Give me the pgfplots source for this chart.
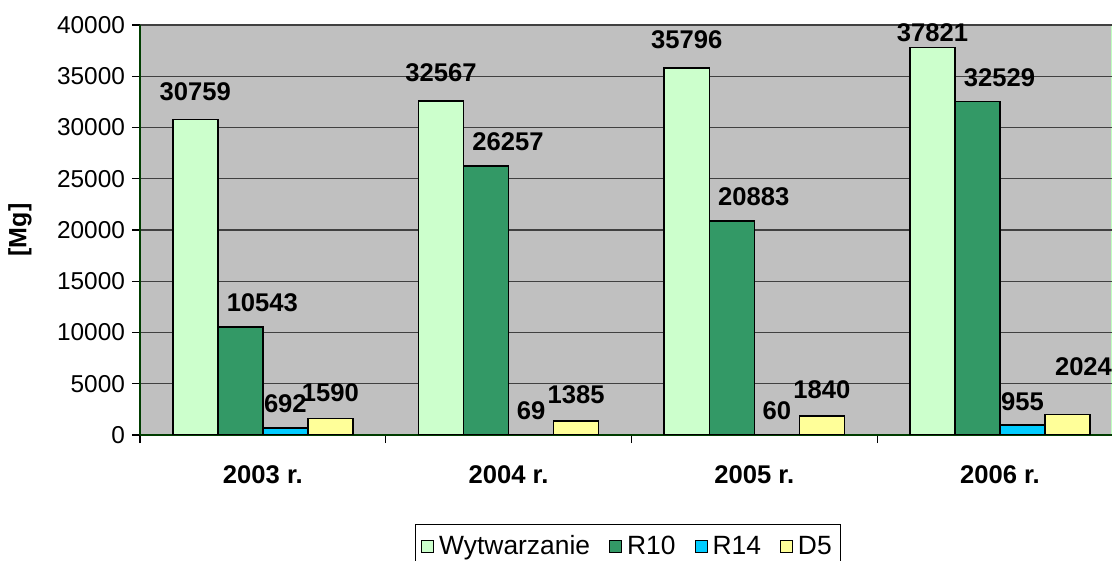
\documentclass[border=0pt]{standalone}
\usepackage{pgfplots}
\pgfplotsset{compat=1.18}
\usepackage{fontspec}
\setmainfont{Liberation Sans}
\definecolor{cW}{HTML}{CCFFCC}
\definecolor{cR10}{HTML}{339966}
\definecolor{cR14}{HTML}{00CCFF}
\definecolor{cD5}{HTML}{FFFF99}
\definecolor{bg}{HTML}{C0C0C0}
\begin{document}
\begin{tikzpicture}
\begin{axis}[
  at={(0,0)}, anchor=south west,
  scale only axis, width=486pt, height=205pt,
  xmin=-0.5, xmax=3.456, ymin=0, ymax=40000,
  axis background/.style={fill=bg, draw=green!25!white, line width=0.8pt},
  axis lines*=left,
  axis line style={black!60!green!60!black, line width=0.6pt},
  ybar=0pt, bar width=0.1832,
  ytick={0,5000,...,40000},
  scaled y ticks=false,
  ymajorgrids, grid style={black!75, line width=0.6pt},
  tick align=outside, major tick length=4pt,
  tick style={black, line width=0.6pt},
  yticklabel style={font=\fontsize{12.2}{13}\selectfont, /pgf/number format/assume math mode=true, /pgf/number format/1000 sep={}},
  xtick={-0.5,0.5,1.5,2.5}, xticklabels={},
  extra x ticks={0,1,2,3},
  extra x tick labels={2003 r.,2004 r.,2005 r.,2006 r.},
  extra x tick style={major tick length=0pt, xticklabel style={font=\fontsize{12.8}{14}\selectfont\bfseries, yshift=-12pt}},
  ylabel={[Mg]},
  ylabel style={font=\fontsize{12.5}{14}\selectfont\bfseries, at={(axis description cs:-0.1235,0.5)}, anchor=center},
  legend columns=4,
  legend style={at={(axis description cs:0.502,-0.272)}, anchor=center, draw=black, fill=white,
    font=\fontsize{13.2}{14}\selectfont, inner ysep=4pt, inner xsep=3pt,
    nodes={inner sep=1.5pt},
    /tikz/every odd column/.append style={column sep=1pt},
    /tikz/every even column/.append style={column sep=8pt}},
  legend image code/.code={\draw[#1, line width=0.5pt] (0pt,-3pt) rectangle (6pt,3pt);},
  nodes near coords={\pgfmathprintnumber[assume math mode=true,1000 sep={}]{\pgfplotspointmeta}},
  every node near coord/.append style={font=\fontsize{12.8}{14}\selectfont\bfseries, anchor=center, black},
]
\addplot[fill=cW, draw=black, line width=0.75pt,
  every node near coord/.append code={\ifnum\coordindex=3 \pgfkeysalso{yshift=7.5pt}\else\pgfkeysalso{yshift=14pt}\fi}]
  coordinates {(0,30759) (1,32567) (2,35796) (3,37821)};
\addplot[fill=cR10, draw=black, line width=0.75pt, every node near coord/.append style={yshift=12pt, xshift=11pt}]
  coordinates {(0,10543) (1,26257) (2,20883) (3,32529)};
\addplot[fill=cR14, draw=black, line width=0.75pt, every node near coord/.append style={yshift=12pt}]
  coordinates {(0,692) (1,69) (2,60) (3,955)};
\addplot[fill=cD5, draw=black, line width=0.75pt,
  every node near coord/.append code={\ifnum\coordindex=3 \pgfkeysalso{yshift=24pt,xshift=8pt}\else\pgfkeysalso{yshift=13pt}\fi}]
  coordinates {(0,1590) (1,1385) (2,1840) (3,2024)};
\legend{Wytwarzanie, R10, R14, D5}
\end{axis}
\pgfresetboundingbox
\path (-70pt,-63pt) rectangle (486pt,217.5pt);
\end{tikzpicture}
\end{document}
